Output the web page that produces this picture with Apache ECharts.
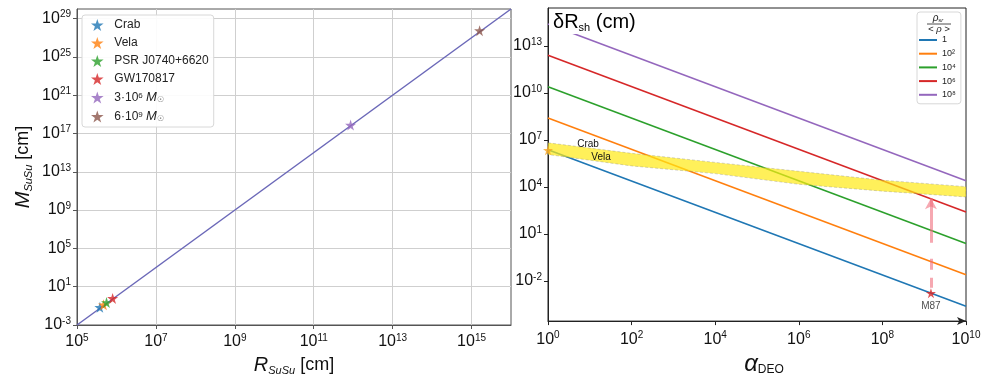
<!DOCTYPE html>
<html><head><meta charset="utf-8">
<script src="https://cdn.jsdelivr.net/npm/echarts@6/dist/echarts.min.js"></script>
<style>html,body{margin:0;padding:0;background:#fff}#c{width:993px;height:381px}</style>
</head><body><div id="c"></div>
<script>
// ---------- Left panel data ----------
const sourceNames = ['Crab', 'Vela', 'PSR J0740+6620', 'GW170817', '3·10⁶ M☉', '6·10⁹ M☉'];
const sourceR = [3.8e5, 4.7e5, 5.6e5, 8.0e5, 8.6e11, 1.6e15];
const sourceM = [0.07, 0.13, 0.22, 0.6, 7.5e17, 5.5e27];
const sourceColors = ['#1f77b4', '#ff7f0e', '#2ca02c', '#d62728', '#9467bd', '#8c564b'];
const relR = [1e5, 1e16];
const relM = [1e-3, 1e30];
const leftXTicks = [1e5, 1e7, 1e9, 1e11, 1e13, 1e15];
const leftYTicks = [1e-3, 1e1, 1e5, 1e9, 1e13, 1e17, 1e21, 1e25, 1e29];

// ---------- Right panel data ----------
const alphaEnds = [1, 1e10];
const ratioNames = ['1', '10²', '10⁴', '10⁶', '10⁸'];
const dRAtAlpha1 = [2.4e6, 2.5e8, 2.5e10, 2.5e12, 2.5e14];
const dRAtAlpha1e10 = [2.4e-4, 2.5e-2, 2.5, 250, 2.5e4];
const ratioColors = ['#1f77b4', '#ff7f0e', '#2ca02c', '#d62728', '#9467bd'];
const bandAlpha = [1, 1e2, 1e4, 1e6, 1e8, 1e10];
const bandUpper = [6.6e6, 1.4e6, 3.7e5, 1.0e5, 2.7e4, 1.05e4];
const bandLower = [1.17e6, 2.2e5, 7.1e4, 1.48e4, 5.4e3, 2.3e3];
const pulsarPoint = [1, 2.2e6];
const m87Point = [1.45e9, 1.66e-3];
const m87ArrowFrom = 3.7e-3;
const m87ArrowTo = 1.9e3;
const rightXTicks = [1, 1e2, 1e4, 1e6, 1e8, 1e10];
const rightYTicks = [1e-2, 1e1, 1e4, 1e7, 1e10, 1e13];

const FONT = '"Liberation Sans", Arial, sans-serif';
const STAR = 'path://M100 0 L122.45 69.1 L195.1 69.1 L136.3 111.8 L158.8 180.9 L100 138.2 L41.2 180.9 L63.7 111.8 L4.9 69.1 L77.55 69.1 Z';

const supRich = {
  b: {fontSize: 16, fontFamily: FONT, color: '#111', lineHeight: 18},
  s: {fontSize: 10, fontFamily: FONT, color: '#111', lineHeight: 12, verticalAlign: 'top'}
};
function powLabel(v) {
  const e = Math.round(Math.log10(v));
  return '{b|10}{s|' + e + '}';
}

function legendFmt(name) {
  const m = name.match(/^(.*) M☉$/);
  if (m) {
    const p = m[1].match(/^(.*10)(.)$/);
    const sup = {'⁶': '6', '⁹': '9'}[p[2]];
    return '{t|' + p[1] + '}{u|' + sup + '}{t| }{i|M}{d|☉}';
  }
  return '{t|' + name + '}';
}

const series = [];
series.push({
  type: 'line', xAxisIndex: 0, yAxisIndex: 0, data: relR.map((r, i) => [r, relM[i]]),
  symbol: 'none', lineStyle: {color: '#6b68b8', width: 1.5}, silent: true, z: 2
});
sourceNames.forEach((n, i) => {
  series.push({
    type: 'scatter', name: n, xAxisIndex: 0, yAxisIndex: 0,
    data: [[sourceR[i], sourceM[i]]], symbol: STAR, symbolSize: 11,
    itemStyle: {color: sourceColors[i]}, z: 3, clip: false
  });
});
ratioNames.forEach((n, i) => {
  series.push({
    type: 'line', name: n, xAxisIndex: 1, yAxisIndex: 1,
    data: [[alphaEnds[0], dRAtAlpha1[i]], [alphaEnds[1], dRAtAlpha1e10[i]]],
    symbol: 'none', lineStyle: {color: ratioColors[i], width: 1.6}, itemStyle: {color: ratioColors[i]}, z: 2
  });
});
series.push({
  type: 'custom', xAxisIndex: 1, yAxisIndex: 1, z: 4, silent: true,
  data: bandAlpha.map((a, i) => [a, bandUpper[i], bandLower[i]]),
  encode: {x: 0, y: [1, 2]},
  renderItem: function (params, api) {
    if (params.dataIndex !== 0) return null;
    const pts = [];
    for (let i = 0; i < bandAlpha.length; i++) pts.push(api.coord([bandAlpha[i], bandUpper[i]]));
    for (let i = bandAlpha.length - 1; i >= 0; i--) pts.push(api.coord([bandAlpha[i], bandLower[i]]));
    return {type: 'polygon', shape: {points: pts},
      style: {fill: 'rgba(255,234,20,0.7)', stroke: 'rgba(120,120,120,0.45)', lineWidth: 0.7, lineDash: [3, 2]}};
  }
});
series.push({
  type: 'scatter', xAxisIndex: 1, yAxisIndex: 1, data: [pulsarPoint], symbol: STAR, symbolSize: 10,
  itemStyle: {color: '#f5a623'}, clip: false, z: 6, silent: true
});
series.push({
  type: 'scatter', xAxisIndex: 1, yAxisIndex: 1, data: [m87Point], symbol: STAR, symbolSize: 10,
  itemStyle: {color: '#d62728'}, z: 6, silent: true,
  label: {show: true, position: 'bottom', distance: 3, formatter: 'M87', fontSize: 10, fontFamily: FONT, color: '#222'},
  markLine: {
    silent: true, symbol: ['none', 'arrow'], symbolSize: [9, 11],
    label: {show: false},
    lineStyle: {color: 'rgba(240,110,125,0.6)', width: 3, type: [10, 8, 11, 16, 80]},
    data: [[{coord: [m87Point[0], m87ArrowFrom]}, {coord: [m87Point[0], m87ArrowTo]}]]
  }
});

const option = {
  animation: false,
  backgroundColor: '#fff',
  textStyle: {fontFamily: FONT},
  grid: [
    {left: 77, top: 9, width: 434, height: 320, show: true, borderColor: '#555', borderWidth: 1, backgroundColor: 'transparent'},
    {left: 548, top: 8, width: 418, height: 320, show: true, borderColor: '#222', borderWidth: 1, backgroundColor: 'transparent'}
  ],
  xAxis: [
    {type: 'log', logBase: 10, gridIndex: 0, min: 1e5, max: 1e16,
      axisLine: {lineStyle: {color: '#555'}},
      axisTick: {show: true, length: 4, lineStyle: {color: '#555'}, customValues: leftXTicks},
      axisLabel: {formatter: powLabel, rich: supRich, margin: 8, customValues: leftXTicks},
      splitLine: {show: true, lineStyle: {color: '#cfcfcf', width: 1}},
      minorTick: {show: false},
      name: '{i|R}{sub|SuSu}{n| [cm]}', nameLocation: 'middle', nameGap: 29,
      nameTextStyle: {rich: {
        i: {fontSize: 20, fontStyle: 'italic', fontFamily: FONT, color: '#111', lineHeight: 22},
        sub: {fontSize: 11, fontStyle: 'italic', fontFamily: FONT, color: '#111', lineHeight: 10, verticalAlign: 'bottom'},
        n: {fontSize: 18, fontFamily: FONT, color: '#111', lineHeight: 22}}}
    },
    {type: 'log', logBase: 10, gridIndex: 1, min: 1, max: 1e10,
      axisLine: {lineStyle: {color: '#222'}, symbol: ['none', 'arrow'], symbolSize: [6, 9]},
      axisTick: {show: true, length: 4, lineStyle: {color: '#222'}, customValues: rightXTicks},
      axisLabel: {formatter: powLabel, rich: supRich, margin: 9, customValues: rightXTicks},
      splitLine: {show: false},
      name: '{i|α}{sub|DEO}', nameLocation: 'middle', nameGap: 23,
      nameTextStyle: {padding: [0, 0, 0, 14], rich: {
        i: {fontSize: 24, fontStyle: 'italic', fontFamily: FONT, color: '#111', lineHeight: 24},
        sub: {fontSize: 12, fontFamily: FONT, color: '#111', lineHeight: 10, verticalAlign: 'bottom'}}}
    }
  ],
  yAxis: [
    {type: 'log', logBase: 10, gridIndex: 0, min: 1e-3, max: 1e30,
      axisLine: {lineStyle: {color: '#555'}},
      axisTick: {show: true, length: 4, lineStyle: {color: '#555'}, customValues: leftYTicks},
      axisLabel: {formatter: powLabel, rich: supRich, margin: 6, customValues: leftYTicks},
      splitLine: {show: true, lineStyle: {color: '#cfcfcf', width: 1}},
      name: '{i|M}{sub|SuSu}{n| [cm]}', nameLocation: 'middle', nameGap: 43,
      nameTextStyle: {rich: {
        i: {fontSize: 20, fontStyle: 'italic', fontFamily: FONT, color: '#111', lineHeight: 22},
        sub: {fontSize: 11, fontStyle: 'italic', fontFamily: FONT, color: '#111', lineHeight: 10, verticalAlign: 'bottom'},
        n: {fontSize: 18, fontFamily: FONT, color: '#111', lineHeight: 22}}}
    },
    {type: 'log', logBase: 10, gridIndex: 1, min: Math.pow(10, -4.56), max: Math.pow(10, 15.42),
      axisLine: {lineStyle: {color: '#222'}},
      axisTick: {show: true, length: 4, lineStyle: {color: '#222'}, customValues: rightYTicks},
      axisLabel: {formatter: powLabel, rich: supRich, margin: 6, customValues: rightYTicks},
      splitLine: {show: false}
    }
  ],
  legend: [
    {data: sourceNames, orient: 'vertical', left: 82, top: 15, padding: [4, 5, 4, 9],
      itemWidth: 24, itemHeight: 12, itemGap: 6, backgroundColor: 'rgba(255,255,255,0.9)',
      borderColor: '#d8d8d8', borderWidth: 1, borderRadius: 3, selectedMode: false,
      formatter: legendFmt,
      textStyle: {fontSize: 12, lineHeight: 12, fontFamily: FONT, color: '#222', rich: {
        t: {fontSize: 12, lineHeight: 12, fontFamily: FONT, color: '#222'},
        u: {fontSize: 8, fontFamily: FONT, color: '#222', verticalAlign: 'top', lineHeight: 8},
        i: {fontSize: 13, lineHeight: 12, fontStyle: 'italic', fontFamily: FONT, color: '#222'},
        d: {fontSize: 8, fontFamily: 'DejaVu Sans', color: '#777', verticalAlign: 'bottom', lineHeight: 7}
      }}
    },
    {data: ratioNames, orient: 'vertical', left: 917, top: 12, padding: [22, 5, 3, 2],
      itemWidth: 18, itemHeight: 2, itemGap: 1.7, icon: 'rect', backgroundColor: 'rgba(255,255,255,0.9)',
      borderColor: '#d8d8d8', borderWidth: 1, borderRadius: 3, selectedMode: false,
      textStyle: {fontSize: 9, lineHeight: 12, fontFamily: FONT, color: '#222'}
    }
  ],
  graphic: [
    {type: 'rect', z: 100, shape: {x: 549, y: 9, width: 80, height: 25}, style: {fill: '#fff'}, silent: true},
    {type: 'text', z: 101, x: 553, y: 11, silent: true, style: {
      text: '{a|δR}{b|sh}{a| (cm)}', fontFamily: FONT,
      rich: {a: {fontSize: 20, fontFamily: FONT, color: '#111', lineHeight: 22},
             b: {fontSize: 11, fontFamily: FONT, color: '#111', lineHeight: 8, verticalAlign: 'bottom'}}}},
    {type: 'text', z: 101, x: 588, y: 144, silent: true, style: {text: 'Crab', fontSize: 10, fontFamily: FONT, fill: '#111', align: 'center', verticalAlign: 'middle'}},
    {type: 'text', z: 101, x: 601, y: 157, silent: true, style: {text: 'Vela', fontSize: 10, fontFamily: FONT, fill: '#111', align: 'center', verticalAlign: 'middle'}},
    {type: 'text', z: 101, x: 938, y: 18, silent: true, style: {
      text: '{r|ρ}{s|sr}', align: 'center', verticalAlign: 'middle',
      rich: {r: {fontSize: 10, fontStyle: 'italic', fontFamily: FONT, fill: '#222'},
             s: {fontSize: 6, fontStyle: 'italic', fontFamily: FONT, fill: '#222', verticalAlign: 'bottom', lineHeight: 6}}}},
    {type: 'line', z: 101, silent: true, shape: {x1: 927, y1: 24, x2: 951, y2: 24}, style: {stroke: '#222', lineWidth: 0.8}},
    {type: 'text', z: 101, x: 939, y: 29.5, silent: true, style: {text: '< ρ >', fontSize: 9.5, fontStyle: 'italic', fontFamily: FONT, fill: '#222', align: 'center', verticalAlign: 'middle'}}
  ],
  series: series
};

const chart = echarts.init(document.getElementById('c'), null, {renderer: 'canvas'});
chart.setOption(option);
</script>
</body></html>
